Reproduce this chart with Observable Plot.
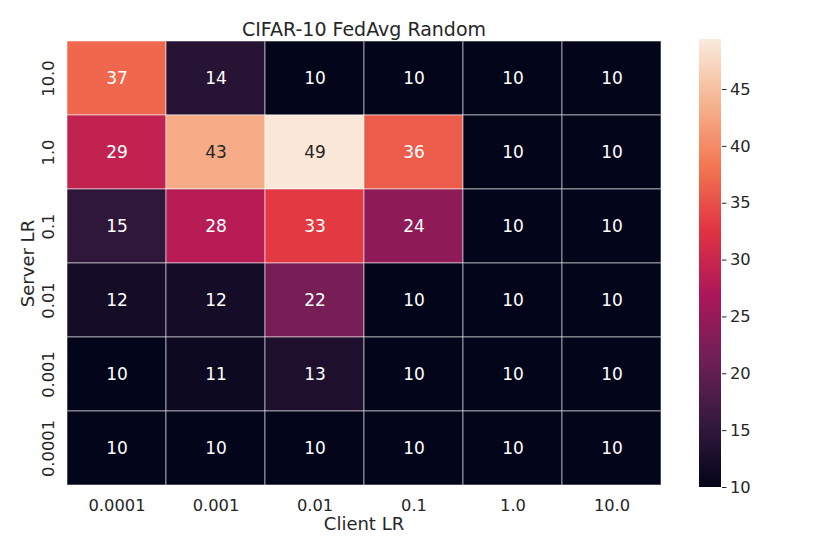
<!DOCTYPE html>
<html>
<head>
<meta charset="utf-8">
<script src="https://cdn.jsdelivr.net/npm/d3@7"></script>
<script src="https://cdn.jsdelivr.net/npm/@observablehq/plot@0.6"></script>
<style>
  html, body { margin: 0; padding: 0; background: #fff; }
  #wrap { position: relative; width: 830px; height: 554px; font-family: "DejaVu Sans", sans-serif; }
  #wrap svg { position: absolute; left: 0; top: 0; background: transparent; }
</style>
</head>
<body>
<div id="wrap"></div>
<script>
const title = "CIFAR-10 FedAvg Random";
const clientLR = ["0.0001", "0.001", "0.01", "0.1", "1.0", "10.0"];
const serverLR = ["10.0", "1.0", "0.1", "0.01", "0.001", "0.0001"];
const accuracy = [
  [37, 14, 10, 10, 10, 10],
  [29, 43, 49, 36, 10, 10],
  [15, 28, 33, 24, 10, 10],
  [12, 12, 22, 10, 10, 10],
  [10, 11, 13, 10, 10, 10],
  [10, 10, 10, 10, 10, 10]
];
const colorTicks = [10, 15, 20, 25, 30, 35, 40, 45];
const colorDomain = [10, 49.4];

const rocket = d3.piecewise(d3.interpolateRgb, [
  "#03051A", "#35193e", "#701f57", "#ad1759", "#e13342", "#f37651", "#f6b48f", "#FAEBDD"
]);

const cells = [];
serverLR.forEach((s, i) => clientLR.forEach((c, j) => cells.push({server: s, client: c, value: accuracy[i][j]})));

const W = 830, H = 554;
const mTop = 39, mBottom = H - 487, mLeft = 66, mRight = W - 661;
const ink = "#262626";
const colorScale = {type: "linear", domain: colorDomain, interpolate: rocket};

const main = Plot.plot({
  width: W, height: H,
  marginTop: mTop, marginBottom: mBottom, marginLeft: mLeft, marginRight: mRight,
  style: {fontFamily: "DejaVu Sans, sans-serif", background: "transparent"},
  x: {type: "band", domain: clientLR, padding: 0, axis: null},
  y: {type: "band", domain: serverLR, padding: 0, axis: null},
  color: colorScale,
  marks: [
    Plot.cell(cells, {x: "client", y: "server", fill: "value", stroke: "white", strokeOpacity: 0.55, strokeWidth: 1, inset: 0}),
    Plot.text(cells.filter(d => d.value < 40), {x: "client", y: "server", text: d => String(d.value), fill: "white", fontSize: 17}),
    Plot.text(cells.filter(d => d.value >= 40), {x: "client", y: "server", text: d => String(d.value), fill: ink, fontSize: 17}),
    Plot.text(clientLR, {x: d => d, frameAnchor: "bottom", dy: 18, lineAnchor: "middle", fill: ink, fontSize: 16.3}),
    Plot.text(serverLR, {y: d => d, frameAnchor: "left", dx: -18, rotate: -90, textAnchor: "middle", lineAnchor: "middle", fill: ink, fontSize: 16.3}),
    Plot.text(["Client LR"], {frameAnchor: "bottom", dy: 37, lineAnchor: "middle", fill: ink, fontSize: 18}),
    Plot.text(["Server LR"], {frameAnchor: "left", dx: -38, rotate: -90, textAnchor: "middle", lineAnchor: "middle", fill: ink, fontSize: 18}),
    Plot.text([title], {frameAnchor: "top", dy: -10, lineAnchor: "middle", fill: ink, fontSize: 19})
  ]
});

const step = 0.05;
const stripes = d3.range(colorDomain[0], colorDomain[1], step);
const bar = Plot.plot({
  width: W, height: H,
  marginTop: mTop, marginBottom: mBottom, marginLeft: 699, marginRight: W - 721,
  style: {fontFamily: "DejaVu Sans, sans-serif", background: "transparent", fontSize: "16.3px", color: ink},
  x: {domain: [0, 1], axis: null},
  y: {domain: colorDomain, axis: null},
  color: colorScale,
  marks: [
    Plot.rect(stripes, {x1: 0, x2: 1, y1: d => d, y2: d => Math.min(d + step * 2, colorDomain[1]), fill: d => d, shapeRendering: "crispEdges"}),
    Plot.axisY({anchor: "right", ticks: colorTicks, tickSize: 4.5, tickPadding: 4, tickFormat: d => String(d), fontSize: 16.3, stroke: ink, fill: ink, label: null})
  ]
});

document.getElementById("wrap").append(main, bar);
</script>
</body>
</html>
